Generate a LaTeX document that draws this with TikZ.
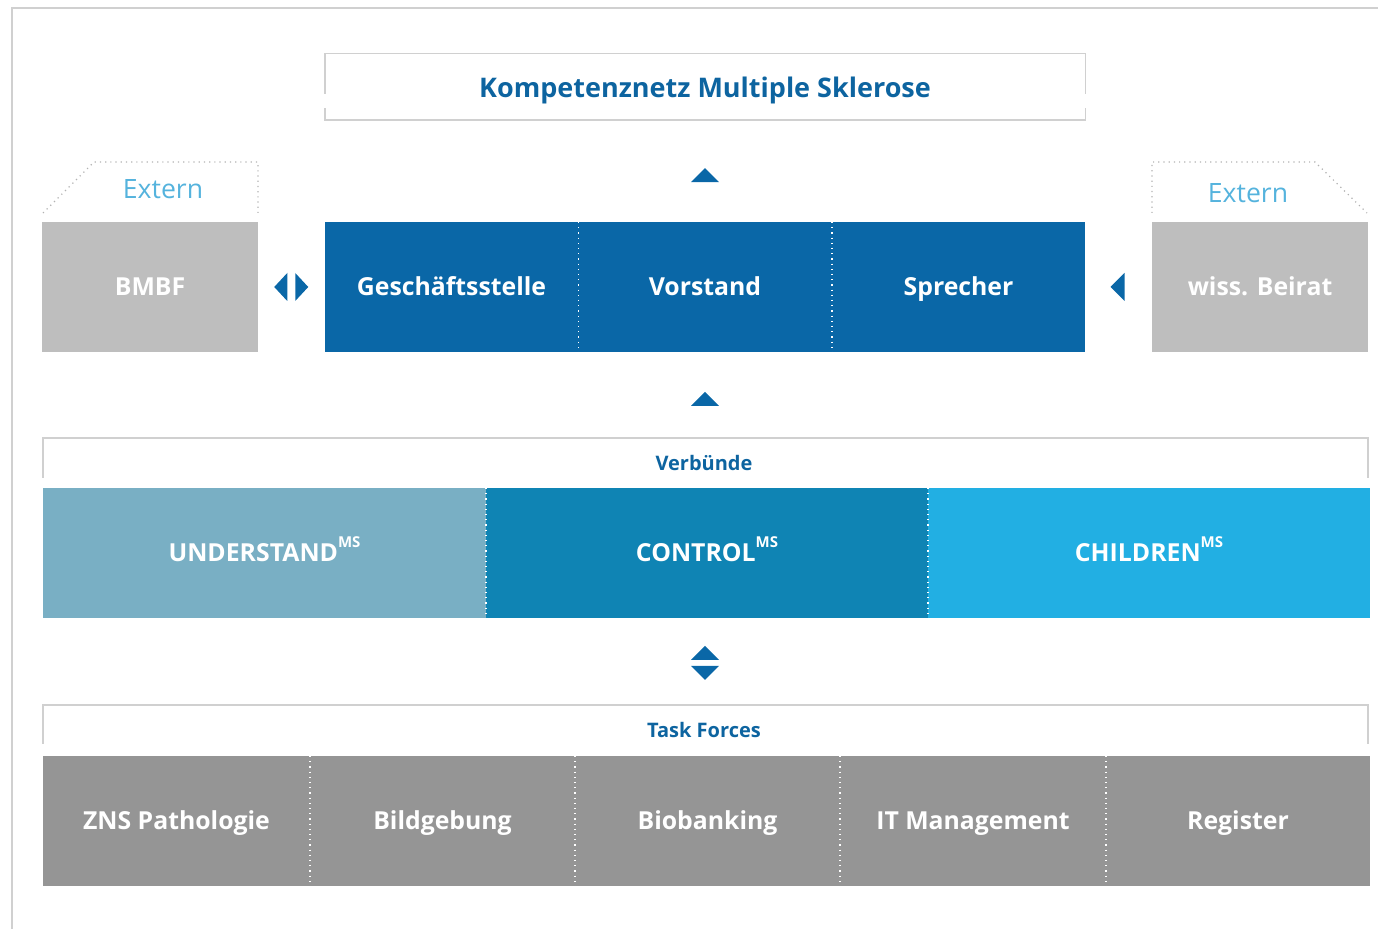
\documentclass[tikz,border=0pt]{standalone}
\usepackage{fontspec}
\setmainfont{Open Sans}
\usetikzlibrary{calc}
\definecolor{kblue}{HTML}{0A67A7}
\definecolor{ktitle}{HTML}{0D64A0}
\definecolor{kextern}{HTML}{55B3DD}
\definecolor{kgrayA}{HTML}{BEBEBE}
\definecolor{kgrayB}{HTML}{959595}
\definecolor{kund}{HTML}{79AFC4}
\definecolor{kcon}{HTML}{0F84B4}
\definecolor{kchi}{HTML}{22AFE3}
\definecolor{kline}{HTML}{D0D0D0}
\newcommand{\kms}{\raisebox{7pt}{\fontsize{7.5}{8}\selectfont MS}}
\tikzset{
  cell/.style={rectangle, inner sep=0pt, outer sep=0pt, text=white,
    font=\fontsize{12.4}{14}\selectfont\bfseries, text height=11.5pt, text depth=3.3pt},
  hdr/.style={inner sep=0pt, text=ktitle, font=\fontsize{10}{12}\selectfont\bfseries,
    text height=9.6pt, text depth=2.5pt},
  ext/.style={inner sep=0pt, text=kextern, font=\fontsize{13.3}{15}\selectfont,
    text height=12.5pt, text depth=3pt},
  tri/.style={fill=kblue, draw=none},
  divider/.style={white, dotted, line width=0.6pt},
  frameline/.style={kline, line width=0.9pt},
  tabline/.style={gray!60, dotted, line width=0.6pt}
}
\begin{document}
\begin{tikzpicture}[x=0.5pt,y=-0.5pt]
\useasboundingbox (0,0) rectangle (1378,929);
% outer frame
\draw[kline, line width=0.6pt] (12,929) -- (12,8) -- (1378,8);

% title
\node[inner sep=0pt, minimum width=380pt, minimum height=33pt] (kn) at (705,87) {};
\node[inner sep=0pt, text=ktitle, font=\fontsize{13.5}{15}\selectfont\bfseries,
  text height=12.8pt, text depth=3pt] (kntext) at (705,88) {Kompetenznetz Multiple Sklerose};
\draw[frameline] ($(kn.north west)+(0,40)$) -- (kn.north west) -- (kn.north east) -- ($(kn.north east)+(0,40)$);
\draw[frameline] ($(kn.south west)+(0,-12)$) -- (kn.south west) -- (kn.south east) -- ($(kn.south east)+(0,-12)$);

% top row
\node[cell, fill=kgrayA, minimum width=108pt, minimum height=65pt] (bmbf) at (150,287) {BMBF};
\node[cell, fill=kblue, minimum width=127pt, minimum height=65pt] (gs) at (451.5,287) {Geschäftsstelle};
\node[cell, fill=kblue, minimum width=127pt, minimum height=65pt] (vs) at (705,287) {Vorstand};
\node[cell, fill=kblue, minimum width=126.5pt, minimum height=65pt] (sp) at (958.5,287) {Sprecher};
\node[cell, fill=kgrayA, minimum width=108pt, minimum height=65pt] (wb) at (1260,287) {wiss. Beirat};
\draw[divider] (gs.north east) -- (gs.south east);
\draw[divider] (vs.north east) -- (vs.south east);

% Extern tabs
\draw[tabline] ($(bmbf.north west)+(1,-9)$) -- ($(bmbf.north west)+(52,-60)$) -- ($(bmbf.north east)+(0,-60)$) -- ($(bmbf.north east)+(0,-9)$);
\node[ext] (ext1) at (163,189) {Extern};
\draw[tabline] ($(wb.north west)+(0,-9)$) -- ($(wb.north west)+(0,-60)$) -- ($(wb.north east)+(-53,-60)$) -- ($(wb.north east)+(-1,-9)$);
\node[ext] (ext2) at (1248,193) {Extern};

% arrows top
\coordinate (a1) at ($(kn.south)!0.5!(vs.north)+(0,3)$);
\fill[tri] ($(a1)+(-14,8)$) -- ($(a1)+(14,8)$) -- ($(a1)+(0,-6)$) -- cycle;
\coordinate (a2) at ($(bmbf.east)!0.5!(gs.west)$);
\fill[tri] ($(a2)+(-4,-14)$) -- ($(a2)+(-4,14)$) -- ($(a2)+(-17,0)$) -- cycle;
\fill[tri] ($(a2)+(4,-14)$) -- ($(a2)+(4,14)$) -- ($(a2)+(17,0)$) -- cycle;
\coordinate (a3) at ($(sp.east)!0.5!(wb.west)$);
\fill[tri] ($(a3)+(6,-14)$) -- ($(a3)+(6,14)$) -- ($(a3)+(-8,0)$) -- cycle;

% Verbünde
\node[hdr] (vb) at (704,463) {Verbünde};
\draw[frameline] (43,478) -- (43,438) -- (1368,438) -- (1368,478);
\node[cell, fill=kund, minimum width=221.5pt, minimum height=65pt] (und) at (264.5,553) {UNDERSTAND\kms};
\node[cell, fill=kcon, minimum width=221pt, minimum height=65pt] (con) at (707,553) {CONTROL\kms};
\node[cell, fill=kchi, minimum width=221pt, minimum height=65pt] (chi) at (1149,553) {CHILDREN\kms};
\draw[divider] (und.north east) -- (und.south east);
\draw[divider] (con.north east) -- (con.south east);

\coordinate (a4) at ($(vs.south)!0.5!(705,438)+(0,4)$);
\fill[tri] ($(a4)+(-14,7)$) -- ($(a4)+(14,7)$) -- ($(a4)+(0,-7)$) -- cycle;

% Task Forces
\coordinate (a5) at (705,663);
\fill[tri] ($(a5)+(-14,-3)$) -- ($(a5)+(14,-3)$) -- ($(a5)+(0,-17)$) -- cycle;
\fill[tri] ($(a5)+(-14,3)$) -- ($(a5)+(14,3)$) -- ($(a5)+(0,17)$) -- cycle;

\node[hdr] (tf) at (704,730) {Task Forces};
\draw[frameline] (43,744) -- (43,705) -- (1368,705) -- (1368,744);
\node[cell, fill=kgrayB, minimum width=133.5pt, minimum height=65pt] (t1) at (176.5,821) {ZNS Pathologie};
\node[cell, fill=kgrayB, minimum width=132.5pt, minimum height=65pt] (t2) at (442.5,821) {Bildgebung};
\node[cell, fill=kgrayB, minimum width=132.5pt, minimum height=65pt] (t3) at (707.5,821) {Biobanking};
\node[cell, fill=kgrayB, minimum width=133pt, minimum height=65pt] (t4) at (973,821) {IT Management};
\node[cell, fill=kgrayB, minimum width=132pt, minimum height=65pt] (t5) at (1238,821) {Register};
\draw[divider] (t1.north east) -- (t1.south east);
\draw[divider] (t2.north east) -- (t2.south east);
\draw[divider] (t3.north east) -- (t3.south east);
\draw[divider] (t4.north east) -- (t4.south east);
\end{tikzpicture}
\end{document}
